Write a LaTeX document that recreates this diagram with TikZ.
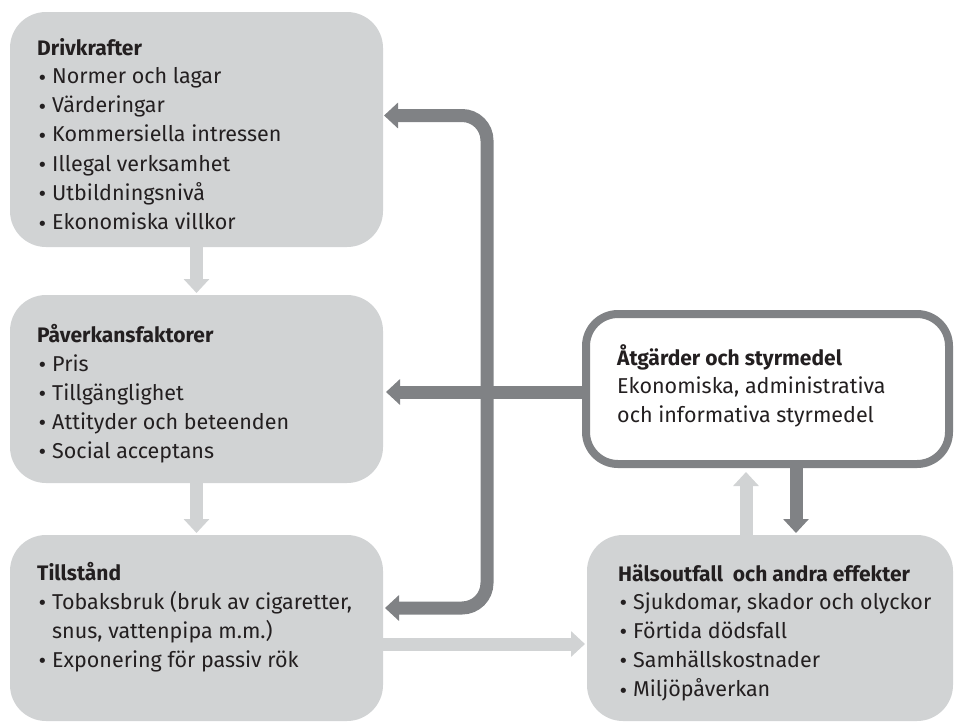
\documentclass[tikz,border=0pt]{standalone}
\usepackage{fontspec}
\setmainfont{Fira Sans}
\newfontfamily\bulfont{DejaVu Sans}
\usetikzlibrary{arrows.meta}
\definecolor{boxgray}{HTML}{D1D3D4}
\definecolor{darkarr}{HTML}{808285}
\definecolor{txt}{HTML}{231F20}
\begin{document}
\begin{tikzpicture}[x=1pt,y=-1pt,
  graybox/.style={fill=boxgray, draw=none, rounded corners=36pt, anchor=north west, inner sep=0pt, outer sep=0pt},
  whitebox/.style={fill=white, draw=darkarr, line width=8pt, rounded corners=32pt, anchor=north west, inner sep=0pt, outer sep=0pt},
  ln/.style={anchor=base west, inner sep=0pt, font=\fontsize{21.5}{24}\selectfont, text=txt},
  ttl/.style={anchor=base west, inner sep=0pt, font=\fontsize{21}{24}\selectfont\bfseries, text=txt},
  tipA/.tip={Triangle[width=25pt,length=14pt]},
  lightarr/.style={draw=boxgray, line width=13pt, -tipA},
  darkarrow/.style={draw=darkarr, line width=13pt, -tipA},
]
\useasboundingbox (0,0) rectangle (954,721);
\newcommand{\bul}{\makebox[15pt][l]{\raisebox{-0.5pt}{\bulfont\fontsize{18}{18}\selectfont•}}}

% boxes
\node[graybox, minimum width=373pt, minimum height=235pt] (drv) at (10,12) {};
\node[graybox, minimum width=373pt, minimum height=188pt] (pav) at (10,295) {};
\node[graybox, minimum width=373pt, minimum height=186pt] (tills) at (10,535) {};
\node[graybox, minimum width=366pt, minimum height=186pt] (hal) at (587,535) {};
\node[whitebox, minimum width=363pt, minimum height=150pt] (atg) at (586,314) {};

% helper coordinates
\coordinate (xu) at (746,0);
\coordinate (xd) at (796,0);
\coordinate (xv) at (487,0);
\coordinate (yt) at (0,115.5);
\coordinate (yh) at (0,392);
\coordinate (yb) at (0,608);
\coordinate (yl) at (0,644);

% light arrows
\draw[lightarr, shorten >=2pt] (drv.south) -- (pav.north);
\draw[lightarr, shorten >=2pt] (pav.south) -- (tills.north);
\draw[lightarr, shorten >=8pt] (hal.north -| xu) -- (atg.south -| xu);
\draw[lightarr, shorten >=2pt] (tills.east |- yl) -- (hal.west |- yl);

% dark arrows
\draw[darkarrow, shorten >=2pt] (atg.south -| xd) -- (hal.north -| xd);
\draw[darkarrow, shorten >=3pt] (atg.west |- yh) -- (pav.east |- yh);
\draw[draw=darkarr, line width=13pt, tipA-tipA, rounded corners=25pt, shorten <=1pt, shorten >=2pt]
  (drv.east |- yt) -- (xv |- yt) -- (xv |- yb) -- (tills.east |- yb);

% texts: Drivkrafter
\node[ttl] (d0) at (37,55) {Drivkrafter};
\node[ln] (d1) at (37,83.5) {\bul Normer och lagar};
\node[ln] (d2) at (37,112.7) {\bul Värderingar};
\node[ln] (d3) at (37,141.9) {\bul Kommersiella intressen};
\node[ln] (d4) at (37,171.1) {\bul Illegal verksamhet};
\node[ln] (d5) at (37,200.3) {\bul Utbildningsnivå};
\node[ln] (d6) at (37,229.5) {\bul Ekonomiska villkor};

% Påverkansfaktorer
\node[ttl] (p0) at (37,342) {Påverkansfaktorer};
\node[ln] (p1) at (37,371) {\bul Pris};
\node[ln] (p2) at (37,400) {\bul Tillgänglighet};
\node[ln] (p3) at (37,429) {\bul Attityder och beteenden};
\node[ln] (p4) at (37,458) {\bul Social acceptans};

% Tillstånd
\node[ttl] (t0) at (37,580) {Tillstånd};
\node[ln] (t1) at (37,609) {\bul Tobaksbruk (bruk av cigaretter,};
\node[ln] (t2) at (52,638) {snus, vattenpipa m.m.)};
\node[ln] (t3) at (37,667) {\bul Exponering för passiv rök};

% Hälsoutfall
\node[ttl] (h0) at (618,581) {Hälsoutfall~ och andra effekter};
\node[ln] (h1) at (618,609) {\bul Sjukdomar, skador och olyckor};
\node[ln] (h2) at (618,638) {\bul Förtida dödsfall};
\node[ln] (h3) at (618,667) {\bul Samhällskostnader};
\node[ln] (h4) at (618,696.5) {\bul Miljöpåverkan};

% Åtgärder
\node[ttl] (a0) at (617,365) {Åtgärder och styrmedel};
\node[ln] (a1) at (617,393.5) {Ekonomiska, administrativa};
\node[ln] (a2) at (617,422) {och informativa styrmedel};
\end{tikzpicture}
\end{document}
